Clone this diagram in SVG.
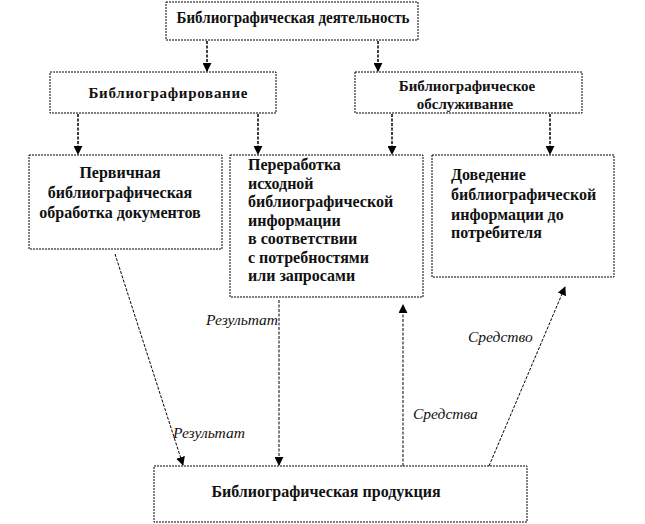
<svg xmlns="http://www.w3.org/2000/svg" width="645" height="524" viewBox="0 0 645 524">
<defs>
<marker id="ah" viewBox="0 0 10 10" refX="9" refY="5" markerWidth="9" markerHeight="9" markerUnits="userSpaceOnUse" orient="auto">
<path d="M0,0 L10,5 L0,10 z" fill="#000"/>
</marker>
<style>
.box{fill:#fff;stroke:#000;stroke-width:1;stroke-dasharray:2,1}
.t{font-family:"Liberation Serif","Times New Roman",serif;font-weight:bold;font-size:16px;fill:#111}
.s{font-size:15px}
.c{text-anchor:middle}
.lbl{font-family:"Liberation Serif","Times New Roman",serif;font-style:italic;font-size:15.5px;fill:#111}
.con{fill:none;stroke:#000;stroke-width:1;stroke-dasharray:3,1.5;marker-end:url(#ah)}
.thick{stroke-width:1.5}
</style>
</defs>
<rect width="645" height="524" fill="#fff"/>
<g id="connectors">
<line class="con thick" x1="207" y1="41" x2="207" y2="71"/>
<line class="con thick" x1="378" y1="41" x2="378" y2="71"/>
<line class="con thick" x1="78" y1="114" x2="78" y2="154"/>
<line class="con thick" x1="258" y1="114" x2="258" y2="154"/>
<line class="con thick" x1="392" y1="114" x2="392" y2="154"/>
<line class="con thick" x1="550" y1="114" x2="550" y2="154"/>
<line class="con" x1="115" y1="254" x2="183" y2="465"/>
<line class="con" x1="279" y1="300" x2="279" y2="465"/>
<line class="con" x1="403" y1="466" x2="403" y2="305"/>
<line class="con" x1="489" y1="466" x2="565" y2="287"/>
<text class="lbl" x="278" y="325" text-anchor="end">Результат</text>
<text class="lbl" x="173" y="438">Результат</text>
<text class="lbl" x="413" y="419">Средства</text>
<text class="lbl" x="468" y="342">Средство</text>
</g>
<g id="n_activity">
<rect class="box" x="166" y="2" width="252" height="38"/>
<text class="t c" x="293" y="23" textLength="233" lengthAdjust="spacingAndGlyphs">Библиографическая деятельность</text>
</g>
<g id="n_bibliografirovanie">
<rect class="box" x="50" y="72" width="226" height="41"/>
<text class="t s c" x="168" y="98" textLength="159" lengthAdjust="spacing">Библиографирование</text>
</g>
<g id="n_service">
<rect class="box" x="355" y="72" width="227" height="41"/>
<text class="t s c" x="467" y="91">Библиографическое</text>
<text class="t s c" x="465" y="109">обслуживание</text>
</g>
<g id="n_primary">
<rect class="box" x="29" y="155" width="193" height="94"/>
<text class="t c" x="120" y="178">Первичная</text>
<text class="t c" x="120" y="198">библиографическая</text>
<text class="t c" x="120" y="218">обработка документов</text>
</g>
<g id="n_processing">
<rect class="box" x="230" y="155" width="193" height="142"/>
<text class="t" x="248" y="170">Переработка</text>
<text class="t" x="248" y="188.5">исходной</text>
<text class="t" x="248" y="207">библиографической</text>
<text class="t" x="248" y="225.5">информации</text>
<text class="t" x="248" y="244">в соответствии</text>
<text class="t" x="248" y="262.5">с потребностями</text>
<text class="t" x="248" y="281">или запросами</text>
</g>
<g id="n_delivery">
<rect class="box" x="432" y="155" width="182" height="122"/>
<text class="t" x="451" y="180">Доведение</text>
<text class="t" x="451" y="200">библиографической</text>
<text class="t" x="451" y="219.5">информации до</text>
<text class="t" x="451" y="238">потребителя</text>
</g>
<g id="n_products">
<rect class="box" x="154" y="466" width="373" height="56"/>
<text class="t c" x="326" y="497">Библиографическая продукция</text>
</g>
</svg>
